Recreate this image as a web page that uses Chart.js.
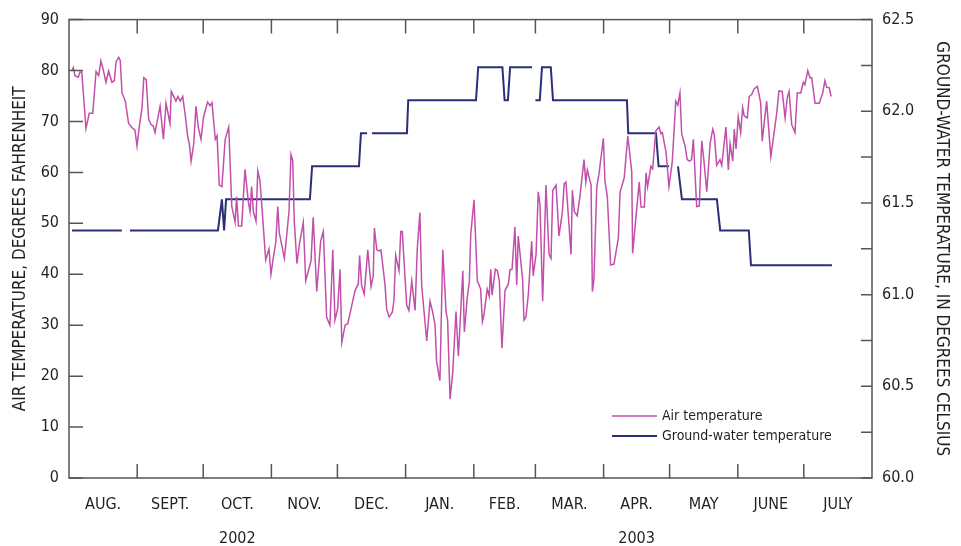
<!DOCTYPE html>
<html>
<head>
<meta charset="utf-8">
<script src="https://cdn.jsdelivr.net/npm/chart.js@4/dist/chart.umd.min.js"></script>
<style>
  body { margin: 0; background: #fff; }
  #wrap { width: 961px; height: 546px; }
</style>
</head>
<body>
<div id="wrap"><canvas id="tempChart" width="961" height="546"></canvas></div>
<script>
// Days are counted from Aug. 1, 2002 (day 0) to Aug. 1, 2003 (day 365)
const monthLabels = ['AUG.', 'SEPT.', 'OCT.', 'NOV.', 'DEC.', 'JAN.', 'FEB.', 'MAR.', 'APR.', 'MAY', 'JUNE', 'JULY'];
const monthStartDays = [0, 31, 61, 92, 122, 153, 184, 212, 243, 273, 304, 334, 365];
const yearLabels = ['2002', '2003'];
const yearLabelMonths = [2, 8]; // under OCT. and APR.

// Air temperature, degrees Fahrenheit
const airDays = [
  1.4, 2.0, 2.7, 4.2, 5.0, 5.8, 7.7, 9.2, 10.8, 12.3, 13.5, 14.5, 15.6, 16.8, 18.0, 19.5, 20.6, 21.4, 22.6, 23.3,
  24.1, 25.6, 27.1, 28.6, 30.0, 30.9, 32.0, 33.2, 34.0, 35.1, 36.2, 37.3, 38.3, 39.1, 41.4, 42.9, 44.1, 45.9, 46.5, 48.6,
  49.5, 50.6, 51.7, 52.9, 54.0, 54.7, 55.5, 56.7, 57.7, 58.8, 60.0, 61.2, 63.0, 64.1, 65.0, 66.5, 67.3, 68.3, 69.5, 71.0,
  72.6, 74.0, 75.5, 76.2, 77.0, 78.5, 80.0, 81.5, 82.3, 83.0, 83.8, 85.0, 85.8, 86.8, 87.9, 89.4, 90.9, 91.8, 92.9, 94.0,
  94.9, 95.6, 97.9, 100.0, 100.9, 101.7, 102.4, 103.6, 104.7, 106.5, 107.6, 110.0, 111.0, 112.6, 114.4, 115.6, 117.1, 118.6, 119.9, 120.9,
  122.1, 123.2, 124.0, 125.5, 126.7, 128.2, 130.0, 131.5, 132.1, 133.0, 134.2, 135.8, 137.3, 138.3, 138.8, 139.9, 140.9, 141.8, 143.6, 144.4,
  145.5, 147.0, 147.7, 148.5, 150.0, 150.8, 151.5, 153.5, 154.5, 155.8, 157.3, 158.3, 159.5, 160.3, 162.6, 164.1, 165.3, 166.4, 167.1, 168.6,
  169.9, 171.4, 172.1, 173.2, 174.4, 175.9, 177.0, 179.0, 179.7, 181.0, 182.0, 182.6, 184.1, 185.6, 187.1, 187.9, 188.6, 190.1, 191.0, 191.7,
  192.3, 193.8, 194.7, 195.6, 196.8, 198.2, 199.7, 200.5, 201.4, 202.7, 203.5, 204.2, 206.2, 206.8, 207.7, 208.8, 210.3, 211.0, 212.3, 213.3,
  214.1, 215.3, 216.8, 218.2, 219.1, 219.9, 221.4, 222.7, 224.2, 225.1, 225.9, 227.0, 228.2, 228.8, 229.7, 231.0, 232.3, 234.1, 234.9, 235.6,
  237.3, 237.9, 238.6, 239.9, 240.9, 242.9, 243.6, 244.7, 246.2, 247.7, 249.7, 250.5, 252.4, 254.0, 255.8, 256.2, 258.0, 259.2, 260.0, 261.5,
  262.3, 263.0, 264.5, 265.3, 266.7, 268.2, 269.1, 269.7, 271.4, 272.7, 274.2, 275.8, 276.7, 277.7, 278.5, 280.0, 281.0, 282.0, 283.0, 283.8,
  285.3, 286.5, 287.6, 288.6, 289.9, 291.4, 292.6, 293.3, 294.4, 295.9, 296.7, 298.6, 299.7, 300.5, 301.7, 302.4, 303.2, 304.2, 305.3, 306.2,
  306.9, 308.3, 309.2, 310.3, 311.4, 312.9, 314.4, 315.1, 317.1, 319.0, 320.1, 321.7, 322.7, 324.2, 325.5, 326.5, 327.3, 328.5, 330.0, 331.0,
  332.6, 333.8, 334.5, 335.8, 336.8, 337.6, 339.1, 341.0, 342.6, 343.6, 344.4, 345.6, 346.4
];
const airTempsF = [
  80.1, 80.6, 79.0, 78.7, 79.7, 79.7, 68.6, 71.6, 71.6, 79.8, 79.0, 81.9, 80.1, 77.7, 79.9, 77.7, 78.0, 81.7, 82.6, 82.0,
  75.6, 74.0, 69.6, 68.8, 68.3, 65.2, 69.1, 72.7, 78.6, 78.2, 70.4, 69.4, 69.1, 67.8, 73.0, 66.5, 73.6, 69.6, 75.9, 74.0,
  74.9, 74.0, 74.9, 71.0, 66.9, 65.6, 62.2, 65.6, 73.0, 68.8, 66.5, 71.0, 73.8, 73.1, 73.7, 66.5, 67.2, 57.5, 57.2, 66.5,
  68.9, 53.3, 50.2, 55.2, 49.5, 49.5, 60.6, 54.3, 52.3, 57.2, 52.3, 50.4, 60.3, 58.4, 52.0, 42.8, 45.0, 40.0, 43.3, 46.3,
  53.3, 48.1, 43.1, 52.3, 63.5, 62.3, 50.4, 42.1, 45.8, 50.2, 38.7, 42.6, 51.2, 36.6, 46.5, 48.4, 31.6, 30.0, 44.8, 31.0,
  33.2, 41.0, 26.6, 30.0, 30.3, 33.2, 36.8, 38.1, 43.7, 37.8, 36.1, 44.8, 37.6, 39.7, 49.1, 44.8, 44.6, 44.8, 38.1, 33.2,
  31.6, 32.6, 34.9, 43.7, 40.7, 48.4, 48.4, 33.9, 32.9, 38.7, 32.9, 44.9, 52.1, 37.8, 26.9, 34.7, 32.6, 30.0, 22.8, 19.1,
  44.8, 32.6, 31.0, 15.5, 20.6, 32.7, 23.9, 40.7, 28.7, 35.3, 38.7, 47.8, 54.6, 38.7, 37.1, 30.7, 32.0, 37.1, 35.7, 41.0,
  35.9, 41.0, 40.7, 38.7, 25.5, 36.8, 38.1, 40.9, 41.0, 49.3, 37.9, 47.5, 39.0, 31.0, 31.6, 36.1, 46.5, 39.7, 43.9, 56.2,
  53.6, 34.7, 57.5, 43.9, 43.1, 56.5, 57.5, 47.5, 52.0, 57.8, 58.1, 51.3, 43.9, 56.5, 52.3, 51.5, 55.5, 62.5, 58.1, 60.5,
  57.5, 36.6, 39.0, 57.2, 59.7, 66.7, 58.4, 55.2, 41.8, 42.0, 47.1, 56.2, 59.0, 67.2, 60.1, 44.1, 52.6, 58.1, 53.2, 53.2,
  59.9, 57.2, 61.2, 60.7, 68.1, 68.9, 67.6, 67.8, 63.9, 57.2, 62.0, 74.0, 73.2, 75.6, 67.5, 65.2, 62.5, 62.2, 62.5, 66.5,
  53.3, 53.4, 66.2, 62.3, 56.2, 65.6, 68.5, 67.5, 61.4, 62.5, 61.4, 68.9, 60.5, 65.6, 62.2, 68.5, 64.6, 70.9, 67.8, 72.7,
  71.1, 70.7, 74.9, 75.3, 76.4, 76.9, 73.6, 66.1, 74.0, 63.1, 66.5, 71.7, 76.0, 75.9, 70.7, 74.7, 75.9, 69.4, 67.8, 75.6,
  75.6, 77.7, 77.2, 80.0, 78.6, 78.6, 73.6, 73.6, 75.6, 78.0, 76.7, 76.6, 74.9
];

// Ground-water temperature, degrees Celsius (null = missing record)
const gwDays = [
  1.4, 24, 25.8, 27.7, 67.7, 69.5, 70.5, 71.4, 109.5, 110.5, 131.8, 132.7, 135.5, 136.6, 137.7, 153.6, 154.2, 185, 186, 197,
  198, 199.5, 200.5, 210.5, 211.3, 212, 214, 215, 219, 220, 253.6, 254.2, 266.8, 268, 272.7, 274.8, 276.8, 278.6, 294.5, 296,
  309, 310, 346.8
];
const gwTempsC = [
  61.35, 61.35, null, 61.35, 61.35, 61.52, 61.35, 61.52, 61.52, 61.70, 61.70, 61.88, 61.88, null, 61.88, 61.88, 62.06, 62.06, 62.24, 62.24,
  62.06, 62.06, 62.24, 62.24, null, 62.06, 62.06, 62.24, 62.24, 62.06, 62.06, 61.88, 61.88, 61.70, 61.70, null, 61.70, 61.52, 61.52, 61.35,
  61.35, 61.16, 61.16
];

const FONT = "'Liberation Sans Narrow', 'DejaVu Sans Condensed', 'Roboto', sans-serif";
const INK = '#231f20';

const airPoints = airDays.map((d, i) => ({ x: d, y: airTempsF[i] }));
const gwPoints = gwDays.map((d, i) => ({ x: d, y: gwTempsC[i] }));
const monthMidDays = monthLabels.map((m, i) => (monthStartDays[i] + monthStartDays[i + 1]) / 2);
const yearDays = yearLabelMonths.map(i => monthMidDays[i]);

// frame, inward tick marks and the legend inside the plot
const framePlugin = {
  id: 'framePlugin',
  afterDatasetsDraw(chart) {
    const { ctx, chartArea: a, scales } = chart;
    ctx.save();
    ctx.strokeStyle = '#555';
    ctx.lineWidth = 1.5;
    ctx.strokeRect(a.left, a.top, a.right - a.left, a.bottom - a.top);

    ctx.beginPath();
    // left ticks, every 10 degrees F
    scales.y.ticks.forEach(t => {
      const py = scales.y.getPixelForValue(t.value);
      ctx.moveTo(a.left, py); ctx.lineTo(a.left + 14, py);
    });
    // right ticks, every 0.25 degree C
    for (let v = scales.y2.min; v <= scales.y2.max + 0.001; v += 0.25) {
      const py = scales.y2.getPixelForValue(v);
      ctx.moveTo(a.right, py); ctx.lineTo(a.right - 11, py);
    }
    // month boundaries, top and bottom
    monthStartDays.slice(1, -1).forEach(d => {
      const px = scales.x.getPixelForValue(d);
      ctx.moveTo(px, a.bottom); ctx.lineTo(px, a.bottom - 14);
      ctx.moveTo(px, a.top); ctx.lineTo(px, a.top + 14);
    });
    ctx.stroke();
    ctx.restore();
  },
  afterDraw(chart) {
    const { ctx, chartArea: a } = chart;
    ctx.save();
    ctx.font = '14px ' + FONT;
    ctx.fillStyle = INK;
    ctx.textBaseline = 'middle';
    chart.data.datasets.forEach((ds, i) => {
      const y = a.bottom - 62 + i * 20;
      ctx.strokeStyle = ds.borderColor;
      ctx.lineWidth = ds.borderWidth;
      ctx.beginPath();
      ctx.moveTo(a.right - 260, y);
      ctx.lineTo(a.right - 215, y);
      ctx.stroke();
      ctx.fillText(ds.label, a.right - 210, y);
    });
    ctx.restore();
  }
};

const ctx = document.getElementById('tempChart').getContext('2d');
const tempChart = new Chart(ctx, {
  type: 'line',
  data: {
    datasets: [
      {
        label: 'Air temperature',
        data: airPoints,
        yAxisID: 'y',
        borderColor: '#c24fab',
        borderWidth: 1.5,
        pointRadius: 0,
        tension: 0,
        fill: false
      },
      {
        label: 'Ground-water temperature',
        data: gwPoints,
        yAxisID: 'y2',
        borderColor: '#2b2e7a',
        borderWidth: 2,
        pointRadius: 0,
        tension: 0,
        spanGaps: false,
        fill: false
      }
    ]
  },
  options: {
    responsive: false,
    devicePixelRatio: 1,
    animation: false,
    layout: { padding: { top: 14, left: 0, right: 0, bottom: 0 } },
    plugins: { legend: { display: false }, tooltip: { enabled: false } },
    scales: {
      x: {
        type: 'linear',
        min: 0,
        max: 365,
        position: 'bottom',
        grid: { display: false, drawTicks: false },
        border: { display: false },
        afterBuildTicks: s => { s.ticks = monthMidDays.map(v => ({ value: v })); },
        afterFit: s => { s.height = 40; },
        ticks: {
          autoSkip: false,
          maxRotation: 0,
          padding: 17,
          color: INK,
          font: { family: FONT, size: 16 },
          callback: (v, i) => monthLabels[i]
        }
      },
      xYear: {
        type: 'linear',
        min: 0,
        max: 365,
        position: 'bottom',
        grid: { display: false, drawTicks: false },
        border: { display: false },
        afterBuildTicks: s => { s.ticks = yearDays.map(v => ({ value: v })); },
        afterFit: s => { s.height = 28; },
        ticks: {
          autoSkip: false,
          maxRotation: 0,
          padding: 11,
          color: INK,
          font: { family: FONT, size: 16 },
          callback: (v, i) => yearLabels[i]
        }
      },
      y: {
        position: 'left',
        min: 0,
        max: 90,
        grid: { display: false, drawTicks: false },
        border: { display: false },
        afterFit: s => { s.width = 69; },
        ticks: {
          stepSize: 10,
          padding: 10,
          color: INK,
          font: { family: FONT, size: 16 }
        },
        title: {
          display: true,
          text: 'AIR TEMPERATURE, DEGREES FAHRENHEIT',
          color: INK,
          font: { family: FONT, size: 17 },
          padding: { top: 10, bottom: 0 }
        }
      },
      y2: {
        position: 'right',
        min: 60,
        max: 62.5,
        grid: { display: false, drawTicks: false },
        border: { display: false },
        afterFit: s => { s.width = 89; },
        ticks: {
          stepSize: 0.5,
          padding: 10,
          color: INK,
          font: { family: FONT, size: 16 },
          callback: v => v.toFixed(1)
        },
        title: {
          display: true,
          text: 'GROUND-WATER TEMPERATURE, IN DEGREES CELSIUS',
          color: INK,
          font: { family: FONT, size: 17 },
          padding: { top: 9, bottom: 0 }
        }
      }
    }
  },
  plugins: [framePlugin]
});
</script>
</body>
</html>
